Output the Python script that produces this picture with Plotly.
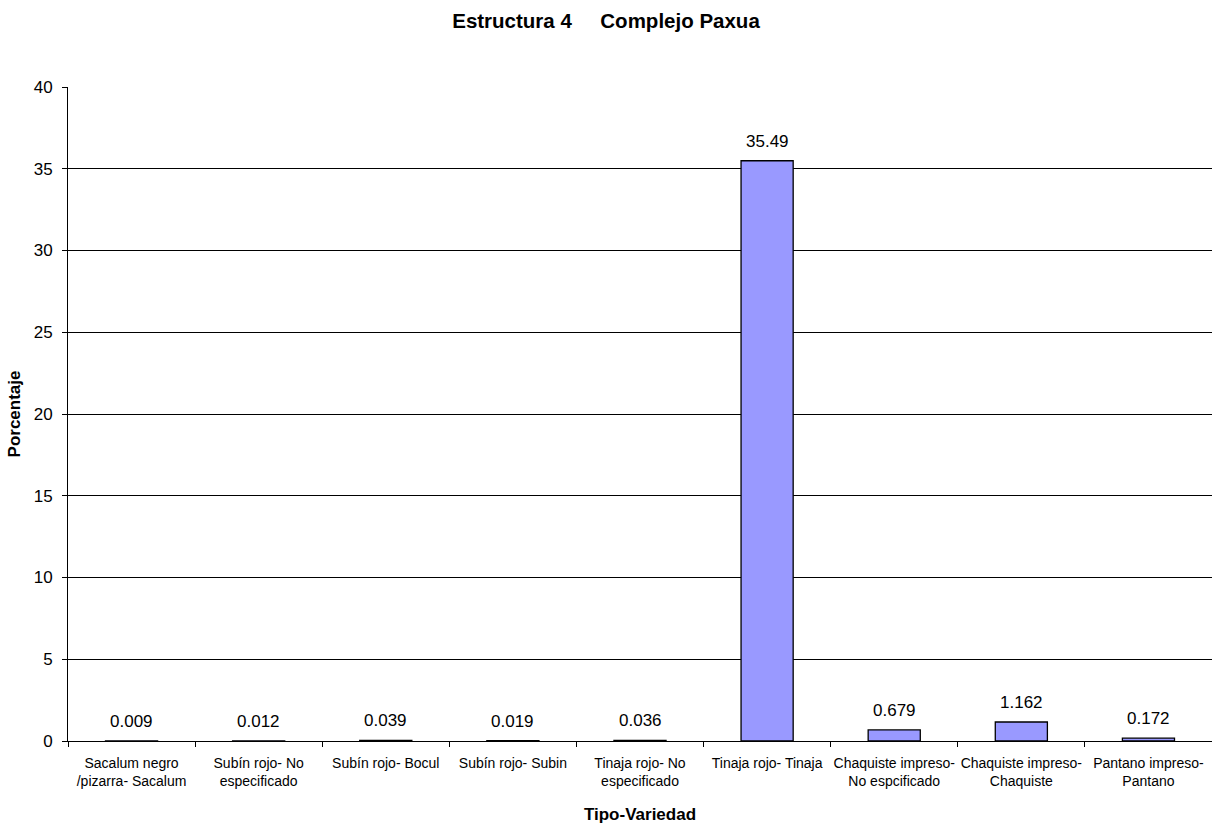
import plotly.graph_objects as go

categories = [
    "Sacalum negro<br>/pizarra- Sacalum",
    "Subín rojo- No<br>especificado",
    "Subín rojo- Bocul",
    "Subín rojo- Subin",
    "Tinaja rojo- No<br>especificado",
    "Tinaja rojo- Tinaja",
    "Chaquiste impreso-<br>No espcificado",
    "Chaquiste impreso-<br>Chaquiste",
    "Pantano impreso-<br>Pantano",
]
values = [0.009, 0.012, 0.039, 0.019, 0.036, 35.49, 0.679, 1.162, 0.172]
value_labels = ["0.009", "0.012", "0.039", "0.019", "0.036", "35.49", "0.679", "1.162", "0.172"]
y_ticks = [0, 5, 10, 15, 20, 25, 30, 35, 40]

FONT = "Liberation Sans, Arial, sans-serif"

fig = go.Figure(
    go.Bar(
        x=categories,
        y=values,
        width=0.41,
        marker=dict(color="#9999FF", line=dict(color="black", width=1.3)),
        hoverinfo="x+y",
    )
)

# value labels above each bar
for cat, val, lab in zip(categories, values, value_labels):
    fig.add_annotation(
        x=cat, y=val, text=lab, showarrow=False,
        yanchor="bottom", yshift=8,
        font=dict(family=FONT, size=17, color="black"),
    )

fig.update_layout(
    width=1212, height=824,
    margin=dict(l=68, r=0, t=87, b=83),
    paper_bgcolor="white", plot_bgcolor="white",
    showlegend=False,
    title=dict(
        text="<b>Estructura 4     Complejo Paxua</b>",
        x=0.5, xanchor="center", y=1 - 21 / 824, yanchor="middle",
        font=dict(family=FONT, size=20.5, color="black"),
    ),
    font=dict(family=FONT, size=14, color="black"),
)

fig.update_xaxes(
    type="category",
    tickson="boundaries",
    tickangle=0,
    automargin=False,
    ticks="outside", ticklen=5, tickcolor="black",
    showline=True, linecolor="black", linewidth=1,
    showgrid=False,
    tickfont=dict(family=FONT, size=14),
    ticklabelstandoff=9,
    title=dict(text="<b>Tipo-Variedad</b>", font=dict(family=FONT, size=17), standoff=20),
)

fig.update_yaxes(
    range=[0, 40],
    tickvals=y_ticks,
    automargin=False,
    ticks="outside", ticklen=5, tickcolor="black",
    showline=True, linecolor="black", linewidth=1,
    showgrid=True, gridcolor="black", gridwidth=1,
    zeroline=False,
    tickfont=dict(family=FONT, size=17),
    ticklabelstandoff=6,
    title=dict(text="<b>Porcentaje</b>", font=dict(family=FONT, size=17), standoff=8),
)

fig.write_html("out.html")
